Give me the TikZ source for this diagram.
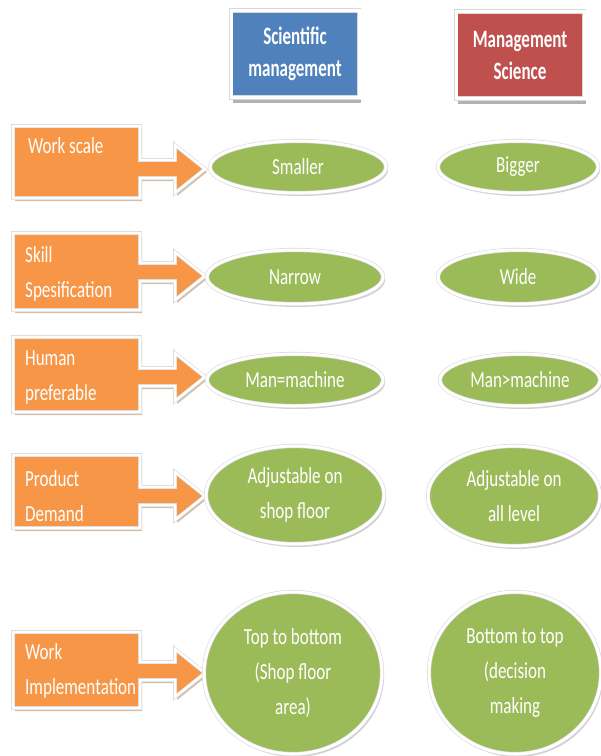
\documentclass[tikz,border=0pt]{standalone}
\usepackage{fontspec}
\usetikzlibrary{shapes.geometric,shadows}
\newfontfamily\bodyf[FakeStretch=0.74]{Carlito}
\newfontfamily\headf[FakeStretch=0.68]{Carlito}
\definecolor{hblue}{HTML}{4F81BD}
\definecolor{hred}{HTML}{C0504D}
\definecolor{cgreen}{HTML}{9BBB59}
\definecolor{corange}{HTML}{F79646}
\tikzset{
 headerbox/.style={rectangle, draw=black!15, double=white, double distance=3pt, line width=0.6pt, minimum width=128pt, minimum height=87pt, inner sep=0pt, text=white, align=center, font=\headf\bfseries\fontsize{25}{32}\selectfont, drop shadow={shadow xshift=2pt, shadow yshift=-5pt, fill=gray, opacity=0.6}},
 greenoval/.style={ellipse, fill=cgreen, draw=black!15, double=white, double distance=3pt, line width=0.6pt, inner sep=0pt, text=white, align=center, font=\bodyf\fontsize{23}{35}\selectfont, drop shadow={shadow xshift=2pt, shadow yshift=-3pt, fill=gray, opacity=0.35}},
 calloutshape/.style={fill=corange, draw=black!15, double=white, double distance=2.5pt, line width=0.6pt, line join=miter, drop shadow={shadow xshift=2pt, shadow yshift=-3pt, fill=brown!70!gray, opacity=0.5}},
 boxtext/.style={anchor=west, inner sep=0pt, text=white, align=left, font=\bodyf\fontsize{23}{35}\selectfont}
}
% #1 top, #2 bottom, #3 shaft top, #4 shaft bottom, #5 head top, #6 head bottom
\newcommand\mkcallout[6]{\path[calloutshape] (13,#1) -- (140,#1) -- (140,#3) -- (175,#3) -- (175,#5) -- (205,{(#5+#6)/2}) -- (175,#6) -- (175,#4) -- (140,#4) -- (140,#2) -- (13,#2) -- cycle;}
\begin{document}
\begin{tikzpicture}[x=1pt,y=-1pt]
\useasboundingbox (0,0) rectangle (601,756);
\fill[white] (0,0) rectangle (601,756);

% headers
\node[headerbox, fill=hblue] (hsci) at (295,54) {Scientific\\management};
\node[headerbox, fill=hred] (hms) at (520,55) {Management\\Science};

% callouts
\mkcallout{126}{198}{160}{178}{145}{193}
\mkcallout{233}{310}{263}{281}{252}{300}
\mkcallout{337}{412}{368}{386}{353}{401}
\mkcallout{455}{528}{487}{505}{472}{520}
\mkcallout{632}{708}{662}{680}{649}{697}

\node[boxtext] (t1) at (28,146) {Work scale};
\node[boxtext] (t2) at (25,274) {Skill\\Spesification};
\node[boxtext] (t3) at (25,377) {Human\\preferable};
\node[boxtext] (t4) at (25,496) {Product\\Demand};
\node[boxtext] (t5) at (25,671) {Work\\Implementation};

% left ellipses
\node[greenoval, minimum width=176pt, minimum height=52pt] (l1) at (298,167) {Smaller};
\node[greenoval, minimum width=176pt, minimum height=54pt] (l2) at (295,277) {Narrow};
\node[greenoval, minimum width=176pt, minimum height=52pt] (l3) at (295,380) {Man=machine};
\node[greenoval, minimum width=178pt, minimum height=98pt] (l4) at (295,495) {Adjustable on\\shop floor};
\node[greenoval, minimum width=178pt, minimum height=162pt] (l5) at (293,673) {Top to bottom\\(Shop floor\\area)};

% right ellipses
\node[greenoval, minimum width=160pt, minimum height=52pt] (r1) at (518,167) {Bigger};
\node[greenoval, minimum width=160pt, minimum height=54pt] (r2) at (518,277) {Wide};
\node[greenoval, minimum width=160pt, minimum height=52pt] (r3) at (520,380) {Man>machine};
\node[greenoval, minimum width=172pt, minimum height=100pt] (r4) at (514,496) {Adjustable on\\all level};
\node[greenoval, minimum width=172pt, minimum height=162pt] (r5) at (515,673) {Bottom to top\\(decision\\making};
\end{tikzpicture}
\end{document}
